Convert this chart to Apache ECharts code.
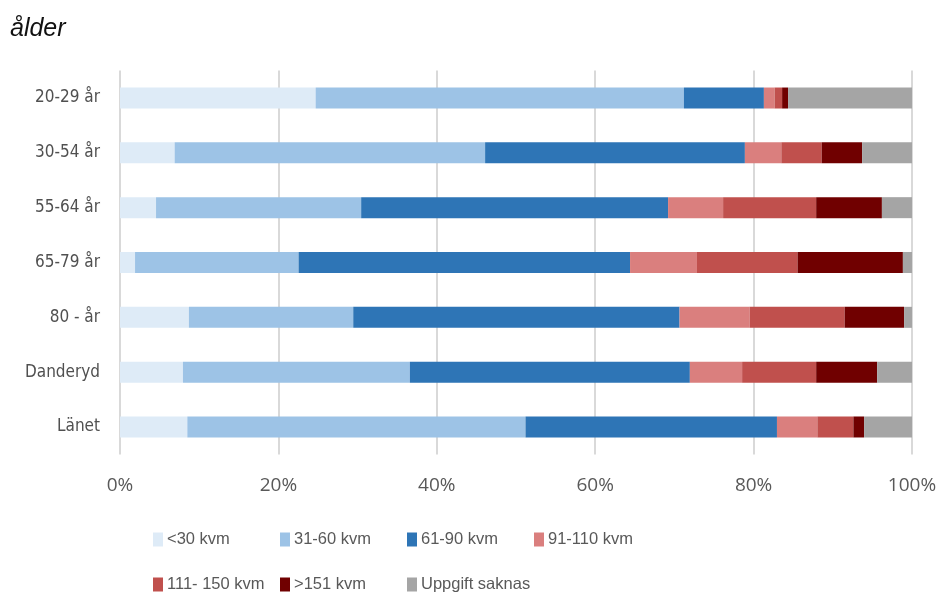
<!DOCTYPE html>
<html>
<head>
<meta charset="utf-8">
<script src="https://cdn.jsdelivr.net/npm/echarts@6/dist/echarts.min.js"></script>
<style>html,body{margin:0;padding:0;background:#fff}#c{width:941px;height:595px}</style>
</head>
<body>
<div id="c"></div>
<script>
const categories = ['20-29 år', '30-54 år', '55-64 år', '65-79 år', '80 - år', 'Danderyd', 'Länet'];
const seriesNames = ['<30 kvm', '31-60 kvm', '61-90 kvm', '91-110 kvm', '111- 150 kvm', '>151 kvm', 'Uppgift saknas'];
const s_lt30 = [24.7, 6.9, 4.55, 1.9, 8.7, 7.95, 8.5];
const s_31_60 = [46.5, 39.2, 25.9, 20.65, 20.75, 28.65, 42.7];
const s_61_90 = [10.1, 32.8, 38.75, 41.85, 41.2, 35.35, 31.75];
const s_91_110 = [1.35, 4.6, 6.95, 8.45, 8.85, 6.6, 5.1];
const s_111_150 = [0.95, 5.1, 11.75, 12.7, 12.0, 9.35, 4.55];
const s_gt151 = [0.75, 5.1, 8.3, 13.3, 7.5, 7.7, 1.35];
const s_unknown = [15.65, 6.3, 3.8, 1.15, 1.0, 4.4, 6.05];
const xTicks = [0, 20, 40, 60, 80, 100];

const values = [s_lt30, s_31_60, s_61_90, s_91_110, s_111_150, s_gt151, s_unknown];
const colors = ['#DEEBF7', '#9DC3E6', '#2E75B6', '#DA7F7E', '#C0504D', '#700000', '#A5A5A5'];

const legendPos = [
  [153, 0], [280, 0], [407, 0], [534, 0],
  [153, 1], [280, 1], [407, 1]
];
const legends = seriesNames.map((n, i) => ({
  data: [n],
  left: legendPos[i][0],
  top: legendPos[i][1] === 0 ? 531 : 576,
  padding: 0,
  itemWidth: 10,
  itemHeight: 14,
  itemGap: 0,
  icon: 'rect',
  textStyle: { fontFamily: '"Liberation Sans", Arial, sans-serif', fontSize: 16.5, color: '#595959', padding: [0, 0, 0, -1] }
}));

const chart = echarts.init(document.getElementById('c'), null, { renderer: 'canvas' });
chart.setOption({
  animation: false,
  backgroundColor: '#ffffff',
  title: {
    text: 'ålder',
    left: 5,
    top: 12,
    textStyle: { fontFamily: '"Liberation Sans", Arial, sans-serif', fontStyle: 'italic', fontWeight: 'normal', fontSize: 25, color: '#111' }
  },
  legend: legends,
  grid: { left: 120, right: 29, top: 70.6, bottom: 140.6, containLabel: false },
  xAxis: {
    type: 'value',
    min: 0, max: 100, interval: 20,
    axisLine: { show: false },
    axisTick: { show: false },
    splitLine: { show: true, lineStyle: { color: '#D9D9D9', width: 2 } },
    axisLabel: {
      formatter: v => xTicks.includes(v) ? v + '%' : '',
      fontFamily: '"Open Sans", sans-serif', fontSize: 19, color: '#595959', margin: 22
    }
  },
  yAxis: {
    type: 'category',
    data: categories,
    inverse: true,
    axisLine: { show: false },
    axisTick: { show: false },
    axisLabel: { fontFamily: '"Liberation Sans Narrow", "DejaVu Sans Condensed", sans-serif', fontSize: 17, color: '#505050', margin: 20 }
  },
  series: seriesNames.map((n, i) => ({
    name: n,
    type: 'bar',
    stack: 'total',
    barWidth: 21,
    data: values[i],
    itemStyle: { color: colors[i] },
    emphasis: { disabled: true }
  }))
});
</script>
</body>
</html>
